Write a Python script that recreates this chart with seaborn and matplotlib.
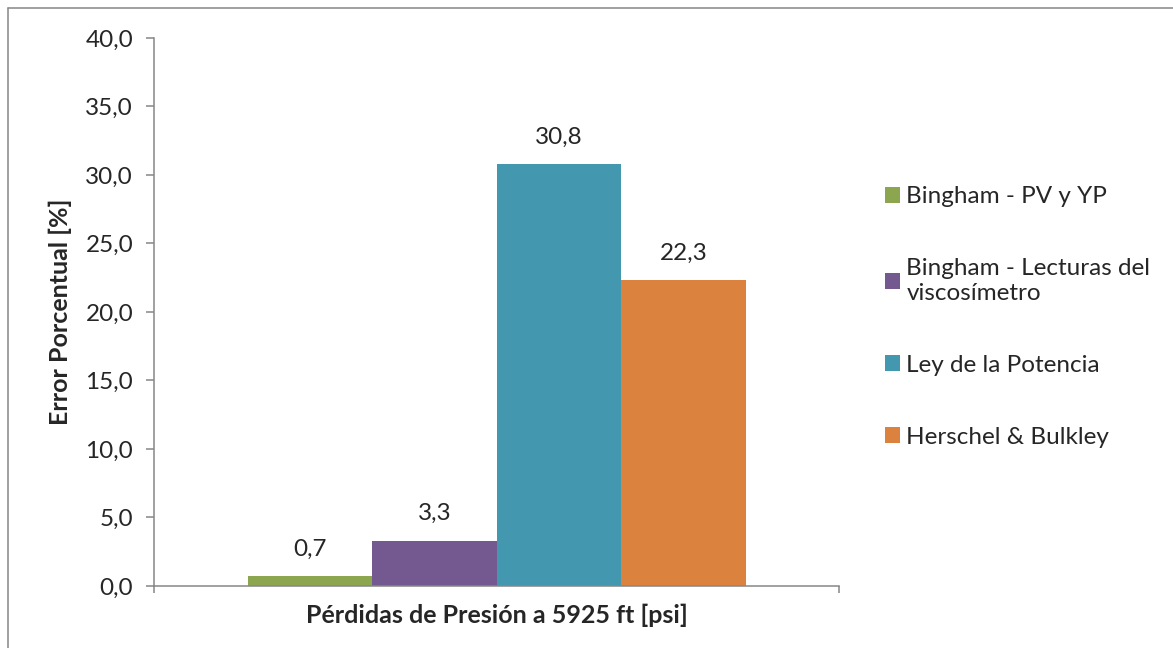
import numpy as np
import pandas as pd
import matplotlib
matplotlib.use("Agg")
import matplotlib.pyplot as plt
from matplotlib.lines import Line2D
import seaborn as sns

# datos
categoria = ["Pérdidas de Presión a 5925 ft [psi]"]
modelos = ["Bingham - PV y YP", "Bingham - Lecturas del viscosímetro",
           "Ley de la Potencia", "Herschel & Bulkley"]
etiquetas_leyenda = ["Bingham - PV y YP", "Bingham - Lecturas del\nviscosímetro",
                     "Ley de la Potencia", "Herschel & Bulkley"]
error = [0.7, 3.3, 30.8, 22.3]
colores = ["#8BA64E", "#73598F", "#4398AF", "#DB833E"]
yticks = [0, 5, 10, 15, 20, 25, 30, 35, 40]

df = pd.DataFrame({"cat": categoria * len(modelos), "modelo": modelos, "error": error})

sns.set_style("white")
plt.rcParams["font.family"] = ["Lato", "DejaVu Sans"]

fig = plt.figure(figsize=(11.73, 6.48), dpi=100)
ax = fig.add_axes([0.1313, 0.0957, 0.7153 - 0.1313, 0.9414 - 0.0957])

sns.barplot(data=df, x="cat", y="error", hue="modelo", hue_order=modelos,
            palette=colores, width=0.727, gap=0, saturation=1, linewidth=0,
            ax=ax, legend=True)

for cont in ax.containers:
    vals = [f"{v:.1f}".replace(".", ",") for v in cont.datavalues]
    ax.bar_label(cont, labels=vals, padding=12, fontsize=17.5)

ax.set_xlim(-0.5, 0.5)
ax.set_ylim(0, 40)
ax.set_yticks(yticks)
ax.set_yticklabels([f"{t:.1f}".replace(".", ",") for t in yticks], fontsize=17.5)
ax.set_xticks([-0.5, 0.5])
ax.set_xticklabels(["", ""])
ax.tick_params(axis="y", direction="out", length=6, width=1.1, color="#868686",
               pad=9, left=True)
ax.tick_params(axis="x", direction="out", length=5, width=1.1, color="#868686",
               bottom=True)

ax.set_xlabel(categoria[0], fontsize=18, fontweight="bold", labelpad=4)
ax.set_ylabel("Error Porcentual [%]", fontsize=18, fontweight="bold", labelpad=10)

for s in ["top", "right"]:
    ax.spines[s].set_visible(False)
for s in ["left", "bottom"]:
    ax.spines[s].set_color("#868686")
    ax.spines[s].set_linewidth(1.1)

handles, _ = ax.get_legend_handles_labels()
ax.legend(handles, etiquetas_leyenda, loc="upper left", bbox_to_anchor=(1.053, 0.747),
          frameon=False, fontsize=17.5, handlelength=0.62, handleheight=0.62,
          handletextpad=0.25, labelspacing=2.1, borderaxespad=0)

# marco exterior del gráfico (solo arriba e izquierda visibles)
fig.add_artist(Line2D([8 / 1173, 1.0], [1 - 8 / 648, 1 - 8 / 648],
                      transform=fig.transFigure, color="#868686", lw=1.1))
fig.add_artist(Line2D([8 / 1173, 8 / 1173], [0.0, 1 - 8 / 648],
                      transform=fig.transFigure, color="#868686", lw=1.1))

fig.savefig("out.png", dpi=100)
